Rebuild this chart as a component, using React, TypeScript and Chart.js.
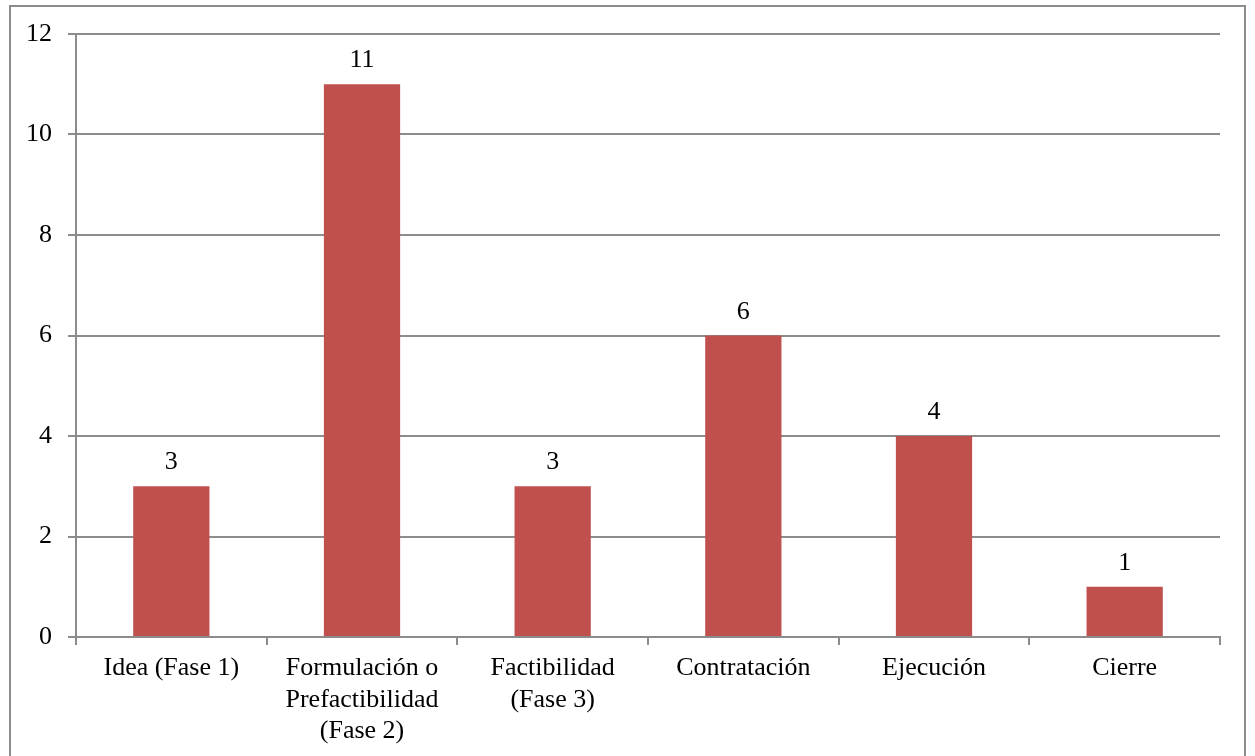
import React, { useEffect, useRef } from "react";
import { Chart, registerables } from "chart.js";

Chart.register(...registerables);

const categories: (string | string[])[] = [
  "Idea (Fase 1)",
  ["Formulación o", "Prefactibilidad", "(Fase 2)"],
  ["Factibilidad", "(Fase 3)"],
  "Contratación",
  "Ejecución",
  "Cierre",
];
const values: number[] = [3, 11, 3, 6, 4, 1];
const yTicks: number[] = [0, 2, 4, 6, 8, 10, 12];

const FONT = "'Liberation Serif', 'Times New Roman', serif";
const GRID = "#8c8c8c";

const valueLabels = {
  id: "valueLabels",
  afterDatasetsDraw(chart: any) {
    const ctx = chart.ctx;
    const meta = chart.getDatasetMeta(0);
    ctx.save();
    ctx.font = `26px ${FONT}`;
    ctx.fillStyle = "#000";
    ctx.textAlign = "center";
    ctx.textBaseline = "alphabetic";
    meta.data.forEach((bar: any, i: number) => {
      ctx.fillText(String(values[i]), bar.x, bar.y - 17);
    });
    ctx.restore();
  },
};

export default function App() {
  const ref = useRef<HTMLCanvasElement | null>(null);
  useEffect(() => {
    if (!ref.current) return;
    const chart = new Chart(ref.current, {
      type: "bar",
      data: {
        labels: categories,
        datasets: [
          {
            data: values,
            backgroundColor: "#C0504D",
            categoryPercentage: 1,
            barPercentage: 0.4,
          },
        ],
      },
      options: {
        animation: false,
        responsive: false,
        maintainAspectRatio: false,
        devicePixelRatio: 1,
        layout: { padding: { top: 34, right: 35, left: 0, bottom: 0 } },
        plugins: { legend: { display: false }, tooltip: { enabled: false } },
        scales: {
          x: {
            grid: {
              offset: true,
              drawOnChartArea: false,
              drawTicks: true,
              tickLength: 8,
              color: GRID,
              lineWidth: 2,
            },
            border: { color: GRID, width: 2 },
            ticks: {
              color: "#000",
              font: { family: FONT, size: 26, lineHeight: 1.2 },
              padding: 8,
              maxRotation: 0,
              autoSkip: false,
            },
            afterFit(scale: any) {
              scale.height = 119;
            },
          },
          y: {
            min: 0,
            max: 12,
            afterBuildTicks(scale: any) {
              scale.ticks = yTicks.map((v) => ({ value: v }));
            },
            grid: {
              color: GRID,
              lineWidth: 2,
              tickLength: 8,
              drawTicks: true,
            },
            border: { color: GRID, width: 2 },
            ticks: {
              color: "#000",
              font: { family: FONT, size: 26 },
              padding: 16,
            },
            afterFit(scale: any) {
              scale.width = 76;
            },
          },
        },
      },
      plugins: [valueLabels],
    });
    return () => chart.destroy();
  }, []);

  return (
    <div style={{ position: "absolute", left: 0, top: 0, width: 1255, height: 756, overflow: "hidden", background: "#fff" }}>
      <div
        style={{
          position: "absolute",
          left: 9,
          top: 5,
          width: 1237,
          height: 800,
          border: `2px solid ${GRID}`,
          boxSizing: "border-box",
        }}
      />
      <canvas ref={ref} width={1255} height={756} style={{ position: "absolute", left: 0, top: 0, width: 1255, height: 756 }} />
    </div>
  );
}
